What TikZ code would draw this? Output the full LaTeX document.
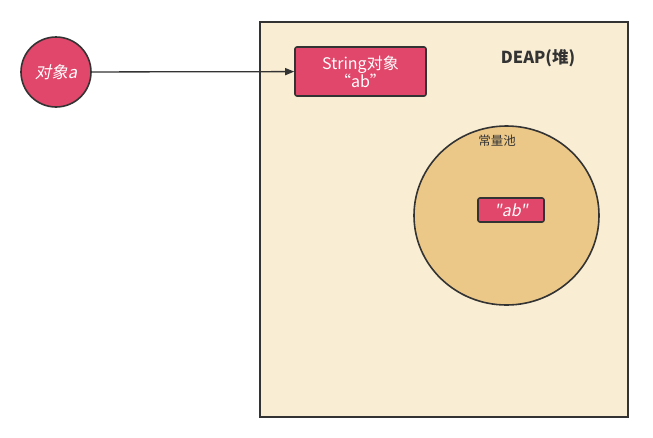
\documentclass[tikz,border=0pt]{standalone}
\usepackage{fontspec}
\setmainfont{Noto Sans CJK SC}
\newfontfamily\cjkit[FakeSlant=0.2]{Noto Sans CJK SC}
\usetikzlibrary{arrows.meta,shapes.geometric}
\definecolor{redfill}{HTML}{E0476A}
\definecolor{heapfill}{HTML}{F9EED4}
\definecolor{poolfill}{HTML}{ECC888}
\definecolor{edge}{HTML}{333333}
\tikzset{
  obj/.style={draw=edge, line width=1.6pt, fill=redfill, text=white},
  conn/.style={draw=edge, line width=1.3pt, -{Triangle[length=9pt,width=7pt]}},
}
\begin{document}
\begin{tikzpicture}[x=1pt,y=-1pt]
\useasboundingbox (0,0) rectangle (653,437);
\node[draw=edge, line width=1.6pt, fill=heapfill, minimum width=368pt, minimum height=395pt, inner sep=0pt] (heap) at (444,219.5) {};
\node[font=\bfseries\fontsize{16.5}{18}\selectfont, text=edge] (deap) at (538,58) {DEAP(堆)};
\node[draw=edge, line width=1.6pt, fill=poolfill, ellipse, minimum width=185pt, minimum height=179pt, inner sep=0pt] (pool) at (506.5,215.5) {};
\node[font=\fontsize{12.5}{14}\selectfont, text=edge] (poollabel) at (497,141) {常量池};
\node[obj, circle, minimum size=70pt, inner sep=0pt, font=\cjkit\fontsize{16.5}{18}\selectfont] (a) at (56,72) {对象a};
\node[obj, rounded corners=2pt, minimum width=131pt, minimum height=49pt, inner sep=0pt, align=center, font=\fontsize{16}{18}\selectfont] (str) at (360.5,71.5) {String对象\\“ab”};
\node[obj, rounded corners=2pt, minimum width=66pt, minimum height=24pt, inner sep=0pt, font=\cjkit\fontsize{16}{18}\selectfont] (ab) at (511,210) {"ab"};
\draw[conn] (a) -- (str);
\end{tikzpicture}
\end{document}
